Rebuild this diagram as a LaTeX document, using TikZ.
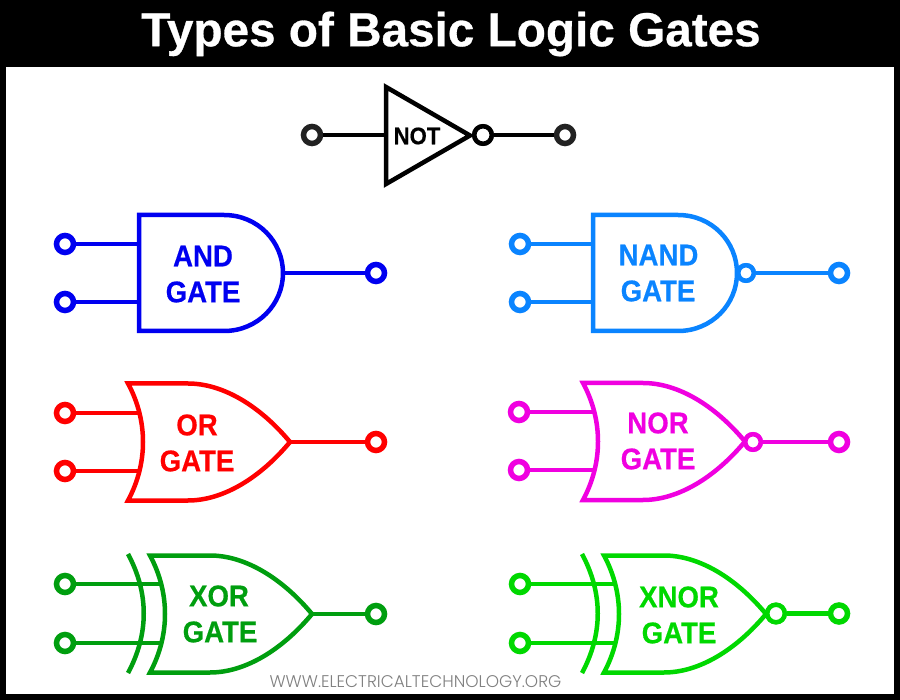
\documentclass[tikz,border=0pt]{standalone}
\usepackage{fontspec}
\setmainfont{Liberation Sans}
\newfontfamily\gatefont[FakeStretch=0.92,FakeBold=0.5]{Liberation Sans Bold}
\newfontfamily\titlefont[FakeBold=0.6]{Liberation Sans Bold}
\newfontfamily\sitefont{Poppins Light}
\newcommand{\orshape}[1]{%
 (#1) -- ++(60,0) .. controls +(35,0) and +(-30,-36) .. ++(102,58.5)
 .. controls +(-30,36) and +(35,0) .. ++(-102,58.5) -- ++(-60,0)
 .. controls +(20,-37) and +(20,37) .. ++(0,-117) -- cycle}
\newcommand{\xarc}[1]{(#1) .. controls +(21,39) and +(21,-39) .. ++(0,119)}
\tikzset{
 term/.style={circle,draw=#1,fill=white,line width=5.5pt,minimum size=17pt,inner sep=0pt},
 bub/.style={circle,fill=white,line width=4.5pt,minimum size=17.5pt,inner sep=0pt,draw},
 wire/.style={line width=4.5pt},
 gateline/.style={line width=4.5pt,fill=white,line join=miter},
 glabel/.style={font=\gatefont\fontsize{30}{30}\selectfont,inner sep=0pt,anchor=center}
}
\definecolor{andc}{HTML}{0000F0}
\definecolor{nandc}{HTML}{0A84FF}
\definecolor{orc}{HTML}{FF0000}
\definecolor{norc}{HTML}{F000E0}
\definecolor{xorc}{HTML}{009E0F}
\definecolor{xnorc}{HTML}{00D800}
\definecolor{termk}{HTML}{222222}
\begin{document}
\begin{tikzpicture}[x=1pt,y=-1pt]
\useasboundingbox (0,0) rectangle (900,700);
\fill[black] (0,0) rectangle (900,700);
\fill[white] (6,67) rectangle (894,694);
\node[text=white,font=\titlefont\fontsize{47.7}{47.7}\selectfont,inner sep=0pt] (title) at (451,34) {Types of Basic Logic Gates};
\node[text=black!50,font=\sitefont\fontsize{16.9}{18}\selectfont,inner sep=0pt] (site) at (415.5,682) {WWW.ELECTRICALTECHNOLOGY.ORG};
% NOT
\node[term=termk] (ni) at (312,135) {};
\node[term=termk] (no) at (565,135) {};
\coordinate (nl) at (386,135);
\node[bub,draw=black] (nb) at (483,135) {};
\draw[wire,black] (ni) -- (nl);
\draw[wire,black] (nb) -- (no);
\draw[gateline,draw=black] (386,87) -- (470,135.5) -- (386,184) -- cycle;
\node[bub,draw=black] at (483,135) {};
\node[glabel,font=\gatefont\fontsize{24}{24}\selectfont] (nt) at (417,136) {NOT};
% AND
\node[term=andc] (a1) at (65,244) {};
\node[term=andc] (a2) at (65,302) {};
\node[term=andc] (a3) at (376,273) {};
\coordinate (ac1) at (139,244); \coordinate (ac2) at (139,302); \coordinate (ac3) at (283,273);
\draw[wire,andc] (a1) -- (ac1); \draw[wire,andc] (a2) -- (ac2); \draw[wire,andc] (ac3) -- (a3);
\draw[gateline,draw=andc] (139,215) -- (224,215) .. controls (258,215) and (283,242) .. (283,273) .. controls (283,304) and (258,331) .. (224,331) -- (139,331) -- cycle;
\node[glabel,text=andc] (at1) at (203,256) {AND};
\node[glabel,text=andc] (at2) at (203,292) {GATE};
% NAND
\node[term=nandc] (b1) at (520,244) {};
\node[term=nandc] (b2) at (520,302) {};
\node[term=nandc] (b3) at (839,273) {};
\coordinate (bc1) at (593,244); \coordinate (bc2) at (593,302);
\node[bub,draw=nandc,minimum size=15.5pt] (bb) at (746,273) {};
\draw[wire,nandc] (b1) -- (bc1); \draw[wire,nandc] (b2) -- (bc2); \draw[wire,nandc] (bb) -- (b3);
\draw[gateline,draw=nandc] (593,215) -- (678,215) .. controls (712,215) and (737,242) .. (737,273) .. controls (737,304) and (712,331) .. (678,331) -- (593,331) -- cycle;
\node[bub,draw=nandc,minimum size=15.5pt] at (746,273) {};
\node[glabel,text=nandc] (bt1) at (658.5,255) {NAND};
\node[glabel,text=nandc] (bt2) at (658,291) {GATE};
% OR
\node[term=orc] (c1) at (65,413) {};
\node[term=orc] (c2) at (65,471) {};
\node[term=orc] (c3) at (376,442) {};
\coordinate (cc1) at (140,413); \coordinate (cc2) at (140,471); \coordinate (cc3) at (289,442);
\draw[wire,orc] (c1) -- (cc1); \draw[wire,orc] (c2) -- (cc2); \draw[wire,orc] (cc3) -- (c3);
\draw[gateline,draw=orc] \orshape{128,383.5};
\node[glabel,text=orc] (ct1) at (197,425) {OR};
\node[glabel,text=orc] (ct2) at (197,461) {GATE};
% NOR
\node[term=norc] (d1) at (519,412) {};
\node[term=norc] (d2) at (519,470) {};
\node[term=norc] (d3) at (839,442) {};
\coordinate (dc1) at (595,412); \coordinate (dc2) at (595,470);
\node[bub,draw=norc,minimum size=15.5pt] (db) at (753,442) {};
\draw[wire,norc] (d1) -- (dc1); \draw[wire,norc] (d2) -- (dc2); \draw[wire,norc] (db) -- (d3);
\draw[gateline,draw=norc] \orshape{583,383};
\node[bub,draw=norc,minimum size=15.5pt] at (753,442) {};
\node[glabel,text=norc] (dt1) at (658,423) {NOR};
\node[glabel,text=norc] (dt2) at (658,459) {GATE};
% XOR
\node[term=xorc] (e1) at (65,584) {};
\node[term=xorc] (e2) at (65,643) {};
\node[term=xorc] (e3) at (376,614) {};
\coordinate (ec1) at (162,584); \coordinate (ec2) at (162,643); \coordinate (ec3) at (312,614);
\draw[wire,xorc] (e1) -- (ec1); \draw[wire,xorc] (e2) -- (ec2); \draw[wire,xorc] (ec3) -- (e3);
\draw[wire,xorc] \xarc{128,554};
\draw[gateline,draw=xorc] \orshape{150,555.5};
\node[glabel,text=xorc] (et1) at (219,596) {XOR};
\node[glabel,text=xorc] (et2) at (220,632) {GATE};
% XNOR
\node[term=xnorc] (f1) at (520,584) {};
\node[term=xnorc] (f2) at (520,643) {};
\node[term=xnorc] (f3) at (839,613.5) {};
\coordinate (fc1) at (617,584); \coordinate (fc2) at (617,643);
\node[bub,draw=xnorc] (fb) at (776,613.5) {};
\draw[wire,xnorc] (f1) -- (fc1); \draw[wire,xnorc] (f2) -- (fc2); \draw[wire,xnorc] (fb) -- (f3);
\draw[wire,xnorc] \xarc{582,554};
\draw[gateline,draw=xnorc] \orshape{604,555.5};
\node[bub,draw=xnorc] at (776,613.5) {};
\node[glabel,text=xnorc] (ft1) at (679,597) {XNOR};
\node[glabel,text=xnorc] (ft2) at (679,633) {GATE};
\end{tikzpicture}
\end{document}
